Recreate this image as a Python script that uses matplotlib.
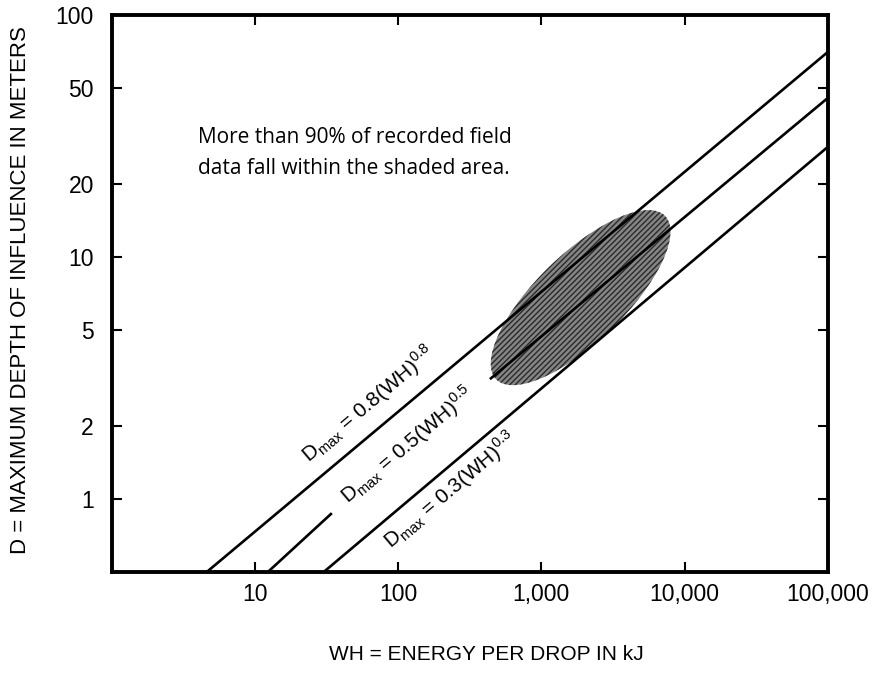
import numpy as np
import matplotlib
matplotlib.use("Agg")
import matplotlib.pyplot as plt
from matplotlib.patches import Ellipse
from matplotlib.transforms import ScaledTranslation

# Lines: (WH, D) end points, kJ and meters
line_08_wh = [4.6, 100000]
line_08_d = [0.5, 70.3]
line_05a_wh = [12.3, 34.4]
line_05a_d = [0.5, 0.875]
line_05b_wh = [437, 100000]
line_05b_d = [3.13, 45.4]
line_03_wh = [30.2, 100000]
line_03_d = [0.5, 28.5]

# shaded field-data region (centre in data units)
zone_wh = 1880
zone_d = 6.8

x_ticks = [10, 100, 1000, 10000, 100000]
x_labels = ['10', '100', '1,000', '10,000', '100,000']
y_ticks = [1, 2, 5, 10, 20, 50, 100]
y_labels = ['1', '2', '5', '10', '20', '50', '100']

plt.rcParams['font.family'] = ['Liberation Sans', 'DejaVu Sans']
plt.rcParams['hatch.linewidth'] = 1.0

fig = plt.figure(figsize=(8.74, 6.85), dpi=100)
ax = fig.add_axes([0.128, 0.165, 0.819, 0.813])
ax.set_xscale('log')
ax.set_yscale('log')
ax.set_xlim(1, 100000)
ax.set_ylim(0.5, 100)

# shaded ellipse, centre in data units, size in inches
trans = fig.dpi_scale_trans + ScaledTranslation(zone_wh, zone_d, ax.transData)
zone = Ellipse((0, 0), 2.35, 0.88, angle=44, transform=trans,
               facecolor='#858585', edgecolor='#2a2a2a', hatch='//////',
               linewidth=0, zorder=1)
ax.add_patch(zone)

for wh, d in [(line_08_wh, line_08_d), (line_05a_wh, line_05a_d),
              (line_05b_wh, line_05b_d), (line_03_wh, line_03_d)]:
    ax.plot(wh, d, color='black', linewidth=1.9, solid_capstyle='butt', zorder=2)

rot = 40.2
ax.text(61.5, 2.47, r'D$_\mathregular{max}$ = 0.8(WH)$^\mathregular{0.8}$', rotation=rot,
        ha='center', va='center', rotation_mode='anchor', fontsize=15)
ax.text(115, 1.67, r'D$_\mathregular{max}$ = 0.5(WH)$^\mathregular{0.5}$', rotation=rot,
        ha='center', va='center', rotation_mode='anchor', fontsize=15)
ax.text(229, 1.09, r'D$_\mathregular{max}$ = 0.3(WH)$^\mathregular{0.3}$', rotation=rot,
        ha='center', va='center', rotation_mode='anchor', fontsize=15)

ax.text(0.12, 0.752, 'More than 90% of recorded field\ndata fall within the shaded area.',
        transform=ax.transAxes, fontsize=15, family=['Open Sans', 'DejaVu Sans'],
        ha='left', va='center', linespacing=1.6)

ax.set_xticks(x_ticks)
ax.set_xticklabels(x_labels)
ax.set_yticks(y_ticks)
ax.set_yticklabels(y_labels)
ax.xaxis.set_minor_locator(matplotlib.ticker.NullLocator())
ax.yaxis.set_minor_locator(matplotlib.ticker.NullLocator())
ax.tick_params(direction='in', length=7, width=1.5, top=True, right=True,
               labelsize=16.5)
ax.tick_params(axis='x', pad=8)
ax.tick_params(axis='y', pad=13)

for s in ax.spines.values():
    s.set_linewidth(2.8)

fig.text(0.556, 0.044, 'WH = ENERGY PER DROP IN kJ', ha='center', va='center', fontsize=15)
fig.text(0.024, 0.577, 'D = MAXIMUM DEPTH OF INFLUENCE IN METERS', ha='center', va='center',
         rotation=90, fontsize=16)

fig.savefig('out.png', dpi=100)
